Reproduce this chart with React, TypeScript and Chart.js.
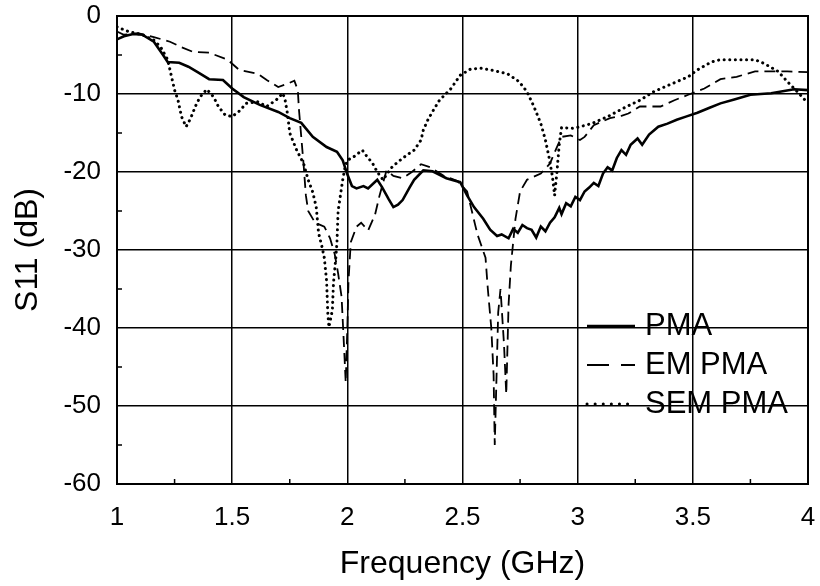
import React, { useEffect, useRef } from "react";
import { Chart, registerables } from "chart.js";
Chart.register(...registerables);

// ---- Data (frequency in GHz, S11 in dB) ----
const pmaFreq = [1.0, 1.03, 1.07, 1.11, 1.16, 1.2, 1.22, 1.27, 1.31, 1.35, 1.4, 1.46, 1.5, 1.55, 1.62, 1.7, 1.75, 1.8, 1.85, 1.91, 1.955, 1.98, 2.0, 2.02, 2.04, 2.07, 2.09, 2.13, 2.15, 2.18, 2.2, 2.22, 2.24, 2.27, 2.29, 2.33, 2.37, 2.43, 2.49, 2.52, 2.55, 2.59, 2.62, 2.65, 2.67, 2.7, 2.72, 2.74, 2.76, 2.78, 2.8, 2.82, 2.84, 2.86, 2.88, 2.9, 2.92, 2.93, 2.95, 2.97, 2.99, 3.01, 3.03, 3.05, 3.07, 3.09, 3.11, 3.13, 3.15, 3.17, 3.19, 3.21, 3.23, 3.26, 3.28, 3.31, 3.35, 3.39, 3.43, 3.47, 3.52, 3.57, 3.62, 3.68, 3.75, 3.84, 3.94, 4.0];
const pmaS11 = [-3.0, -2.6, -2.3, -2.4, -3.3, -5.0, -5.9, -6.0, -6.5, -7.2, -8.1, -8.2, -9.3, -10.4, -11.4, -12.3, -13.1, -13.7, -15.5, -16.8, -17.4, -18.5, -20.3, -21.8, -22.1, -21.8, -22.1, -21.0, -21.9, -23.5, -24.5, -24.2, -23.6, -22.0, -21.0, -19.8, -19.9, -20.8, -21.3, -23.0, -24.5, -26.0, -27.4, -28.2, -28.0, -28.5, -27.3, -27.8, -26.8, -27.2, -27.4, -28.4, -27.0, -27.6, -26.5, -25.8, -24.6, -25.4, -24.0, -24.4, -23.2, -23.6, -22.5, -22.0, -21.4, -21.8, -20.2, -19.4, -19.8, -18.2, -17.2, -17.8, -16.5, -15.7, -16.5, -15.2, -14.2, -13.8, -13.3, -12.9, -12.4, -11.8, -11.2, -10.7, -10.1, -9.9, -9.4, -9.5];

const emFreq = [1.0, 1.03, 1.09, 1.16, 1.23, 1.28, 1.33, 1.4, 1.48, 1.53, 1.61, 1.65, 1.7, 1.74, 1.77, 1.785, 1.79, 1.8, 1.81, 1.82, 1.83, 1.86, 1.9, 1.925, 1.945, 1.96, 1.975, 1.985, 1.993, 2.0, 2.005, 2.015, 2.04, 2.06, 2.09, 2.12, 2.14, 2.17, 2.2, 2.24, 2.28, 2.32, 2.36, 2.42, 2.48, 2.52, 2.565, 2.6, 2.61, 2.625, 2.635, 2.64, 2.655, 2.665, 2.68, 2.69, 2.7, 2.71, 2.73, 2.75, 2.78, 2.84, 2.88, 2.91, 2.93, 2.97, 3.01, 3.03, 3.07, 3.14, 3.19, 3.22, 3.27, 3.36, 3.42, 3.48, 3.55, 3.62, 3.69, 3.77, 3.84, 3.91, 4.0];
const emS11 = [-2.0, -2.4, -2.2, -2.7, -3.3, -4.0, -4.6, -4.7, -5.6, -6.9, -7.4, -8.2, -9.1, -8.7, -8.3, -9.5, -12.0, -15.5, -19.0, -23.0, -25.0, -26.5, -27.0, -28.5, -30.5, -33.0, -36.0, -42.0, -47.0, -40.0, -34.0, -29.0, -27.0, -26.5, -27.5, -25.5, -23.0, -19.8, -20.5, -20.8, -20.0, -19.0, -19.4, -20.5, -21.2, -22.5, -28.0, -31.0, -35.0, -40.0, -46.0, -55.0, -38.0, -35.0, -42.0, -48.5, -37.0, -32.0, -26.0, -22.5, -21.0, -20.2, -18.9, -16.8, -15.5, -15.3, -15.9, -15.5, -14.0, -13.1, -12.8, -12.5, -11.6, -11.6, -10.8, -10.1, -9.3, -8.1, -7.8, -7.1, -7.1, -7.1, -7.2];

const semFreq = [1.0, 1.05, 1.11, 1.16, 1.19, 1.22, 1.23, 1.25, 1.265, 1.28, 1.3, 1.32, 1.34, 1.36, 1.39, 1.42, 1.44, 1.47, 1.5, 1.535, 1.56, 1.61, 1.65, 1.69, 1.72, 1.73, 1.74, 1.75, 1.78, 1.81, 1.83, 1.85, 1.865, 1.875, 1.89, 1.9, 1.91, 1.915, 1.92, 1.935, 1.94, 1.95, 1.955, 1.96, 1.98, 1.99, 2.0, 2.03, 2.065, 2.085, 2.11, 2.13, 2.155, 2.19, 2.22, 2.26, 2.29, 2.32, 2.33, 2.35, 2.375, 2.4, 2.45, 2.49, 2.535, 2.58, 2.635, 2.695, 2.745, 2.78, 2.81, 2.84, 2.86, 2.875, 2.89, 2.9, 2.91, 2.92, 2.93, 2.98, 3.01, 3.06, 3.13, 3.2, 3.27, 3.33, 3.4, 3.48, 3.52, 3.58, 3.62, 3.69, 3.77, 3.81, 3.87, 3.91, 3.96, 4.0];
const semS11 = [-1.4, -2.0, -2.4, -3.1, -4.0, -5.6, -6.9, -9.5, -10.8, -12.9, -14.2, -13.1, -11.6, -10.4, -9.4, -10.4, -11.6, -12.7, -12.9, -12.1, -11.2, -11.0, -11.6, -10.8, -9.9, -10.8, -12.5, -15.0, -17.2, -18.9, -21.0, -22.6, -24.5, -27.8, -29.6, -31.0, -34.0, -38.0, -39.9, -37.7, -34.2, -31.0, -29.0, -25.0, -21.0, -19.4, -18.5, -18.0, -17.2, -18.0, -18.9, -20.0, -21.0, -19.5, -18.7, -17.8, -17.2, -15.9, -14.6, -13.3, -12.0, -10.8, -9.3, -7.6, -6.8, -6.7, -7.0, -7.4, -8.4, -9.7, -11.6, -13.8, -15.9, -18.0, -20.5, -23.0, -20.0, -16.5, -14.3, -14.4, -14.2, -13.8, -12.9, -11.8, -10.8, -9.7, -8.8, -7.8, -6.9, -5.9, -5.6, -5.6, -5.6, -6.1, -7.1, -8.4, -9.9, -11.2];

const seriesLabels = ["PMA", "EM PMA", "SEM PMA"];
const xTitle = "Frequency (GHz)";
const yTitle = "S11 (dB)";
const xMin = 1, xMax = 4, xStep = 0.5;
const yMin = -60, yMax = 0, yStep = 10;

const FONT = "'Liberation Sans', Arial, Helvetica, sans-serif";

const toPoints = (xs: number[], ys: number[]) => xs.map((x, i) => ({ x, y: ys[i] }));

const framePlugin = {
  id: "frameAndMinor",
  afterDatasetsDraw(chart: any) {
    const { ctx, chartArea: a, scales } = chart;
    const xs = scales.x, ys = scales.y;
    ctx.save();
    ctx.strokeStyle = "#000";
    ctx.lineWidth = 1.5;
    ctx.beginPath();
    for (let v = xMin + xStep / 2; v < xMax; v += xStep) {
      const px = xs.getPixelForValue(v);
      ctx.moveTo(px, a.bottom);
      ctx.lineTo(px, a.bottom - 5);
    }
    for (let v = yMin + yStep / 2; v < yMax; v += yStep) {
      const py = ys.getPixelForValue(v);
      ctx.moveTo(a.left, py);
      ctx.lineTo(a.left + 5, py);
    }
    ctx.stroke();
    ctx.lineWidth = 2;
    ctx.strokeRect(a.left, a.top, a.right - a.left, a.bottom - a.top);
    ctx.restore();
  },
};

const legendPlugin = {
  id: "insideLegend",
  afterDraw(chart: any) {
    const { ctx, chartArea: a } = chart;
    const x0 = a.right - 221;
    const x1 = a.right - 173;
    const tx = a.right - 163;
    const rowY = [a.top + 310, a.top + 349, a.top + 388];
    ctx.save();
    chart.data.datasets.forEach((ds: any, i: number) => {
      const y = rowY[i];
      ctx.strokeStyle = ds.borderColor;
      ctx.lineWidth = ds.borderWidth;
      ctx.lineCap = ds.borderCapStyle || "butt";
      ctx.setLineDash(ds.legendDash || []);
      ctx.beginPath();
      ctx.moveTo(x0, y);
      ctx.lineTo(x1, y);
      ctx.stroke();
      ctx.setLineDash([]);
      ctx.fillStyle = "#000";
      ctx.font = `31px ${FONT}`;
      ctx.textBaseline = "middle";
      ctx.textAlign = "left";
      ctx.fillText(ds.label, tx, y);
    });
    ctx.restore();
  },
};

const zeroPad = (s: any) => {
  s.paddingTop = 0;
  s.paddingBottom = 0;
  s.paddingLeft = 0;
  s.paddingRight = 0;
};

export default function App() {
  const ref = useRef<HTMLCanvasElement>(null);
  useEffect(() => {
    document.body.style.margin = "0";
    const chart = new Chart(ref.current as HTMLCanvasElement, {
      type: "line",
      data: {
        datasets: [
          {
            label: seriesLabels[0],
            data: toPoints(pmaFreq, pmaS11),
            borderColor: "#000",
            borderWidth: 2.6,
            pointRadius: 0,
            tension: 0,
            legendDash: [],
          } as any,
          {
            label: seriesLabels[1],
            data: toPoints(emFreq, emS11),
            borderColor: "#000",
            borderWidth: 1.8,
            borderDash: [11, 6],
            pointRadius: 0,
            tension: 0,
            legendDash: [22, 12],
          } as any,
          {
            label: seriesLabels[2],
            data: toPoints(semFreq, semS11),
            borderColor: "#000",
            borderWidth: 3,
            borderDash: [0.1, 5.5],
            borderCapStyle: "round",
            pointRadius: 0,
            tension: 0,
            legendDash: [0.1, 8],
          } as any,
        ],
      },
      options: {
        animation: false,
        responsive: false,
        devicePixelRatio: 1,
        layout: { padding: { top: 16, right: 12, left: 0, bottom: 0 } },
        plugins: { legend: { display: false }, tooltip: { enabled: false } },
        scales: {
          x: {
            type: "linear",
            min: xMin,
            max: xMax,
            ticks: {
              stepSize: xStep,
              color: "#000",
              font: { family: FONT, size: 26 },
              padding: 18,
              maxRotation: 0,
              callback: (v: any) => String(v),
            },
            grid: { color: "#000", lineWidth: 1.5, drawTicks: false },
            border: { display: false },
            title: { display: true, text: xTitle, color: "#000", font: { family: FONT, size: 32 }, padding: { top: 0, bottom: 3 } },
            afterFit: (s: any) => { s.height = 102; zeroPad(s); },
          },
          y: {
            min: yMin,
            max: yMax,
            ticks: { stepSize: yStep, color: "#000", font: { family: FONT, size: 26 }, padding: 16, callback: (v: any) => String(v) },
            grid: { color: "#000", lineWidth: 1.5, drawTicks: false },
            border: { display: false },
            title: { display: true, text: yTitle, color: "#000", font: { family: FONT, size: 32 }, padding: { top: 9, bottom: 0 } },
            afterFit: (s: any) => { s.width = 117; zeroPad(s); },
          },
        },
      },
      plugins: [framePlugin, legendPlugin],
    });
    return () => chart.destroy();
  }, []);
  return (
    <div style={{ position: "absolute", left: 0, top: 0, width: 820, height: 586, background: "#fff" }}>
      <canvas ref={ref} width={820} height={586} />
    </div>
  );
}
